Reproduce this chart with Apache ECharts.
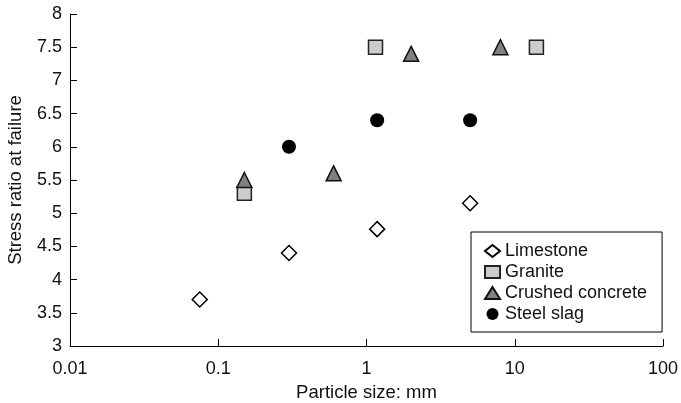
<!DOCTYPE html>
<html>
<head>
<meta charset="utf-8">
<script src="https://cdn.jsdelivr.net/npm/echarts@6/dist/echarts.min.js"></script>
<style>
	html, body { margin: 0; padding: 0; background: #fff; }
	#chart { width: 681px; height: 403px; }
</style>
</head>
<body>
<div id="chart"></div>
<script>
	// particle size (mm) and stress ratio at failure
	const limestone = [[0.075, 3.7], [0.3, 4.4], [1.18, 4.76], [5, 5.15]];
	const granite = [[0.15, 5.3], [1.15, 7.5], [14, 7.5]];
	const crushedConcrete = [[0.15, 5.5], [0.6, 5.6], [2, 7.4], [8, 7.5]];
	const steelSlag = [[0.3, 6.0], [1.18, 6.4], [5, 6.4]];

	const xTickLabels = ["0.01", "0.1", "1", "10", "100"];
	const yTicks = [3, 3.5, 4, 4.5, 5, 5.5, 6, 6.5, 7, 7.5, 8];

	const font = "'Liberation Sans', Arial, sans-serif";

	const chart = echarts.init(document.getElementById("chart"));

	const axisCommon = {
		splitLine: { show: false },
		axisLine: { lineStyle: { color: "#000", width: 1 } },
		axisTick: { inside: true, length: 7, lineStyle: { color: "#000" } }
	};

	chart.setOption({
		animation: false,
		grid: { left: 70, right: 18, top: 14, bottom: 57, outerBoundsMode: "none" },
		xAxis: {
			...axisCommon,
			type: "log",
			logBase: 10,
			min: 0.01,
			max: 100,
			name: "Particle size: mm",
			nameLocation: "middle",
			nameGap: 37,
			nameTextStyle: { color: "#111", fontSize: 18.5, fontFamily: font },
			minorTick: { show: false },
			axisLabel: {
				color: "#111",
				fontSize: 18,
				fontFamily: font,
				margin: 14,
				formatter: (v, i) => xTickLabels[i]
			}
		},
		yAxis: {
			...axisCommon,
			type: "value",
			min: yTicks[0],
			max: yTicks[yTicks.length - 1],
			interval: 0.5,
			name: "Stress ratio at failure",
			nameLocation: "middle",
			nameGap: 45,
			nameTextStyle: { color: "#111", fontSize: 18.5, fontFamily: font },
			axisLabel: {
				color: "#111",
				fontSize: 18,
				fontFamily: font,
				margin: 8
			}
		},
		legend: {
			left: 471,
			top: 232,
			orient: "vertical",
			padding: [10, 15, 9, 13],
			itemGap: 3,
			itemWidth: 15,
			itemHeight: 12,
			borderColor: "#000",
			borderWidth: 1,
			textStyle: { color: "#111", fontSize: 18, fontFamily: font },
			data: ["Limestone", "Granite", "Crushed concrete", "Steel slag"]
		},
		series: [
			{
				name: "Limestone",
				type: "scatter",
				symbol: "diamond",
				symbolSize: 15,
				itemStyle: { color: "#fff", borderColor: "#000", borderWidth: 1.5, opacity: 1 },
				data: limestone
			},
			{
				name: "Granite",
				type: "scatter",
				symbol: "rect",
				symbolSize: 14,
				itemStyle: { color: "#cccccc", borderColor: "#222", borderWidth: 1.5, opacity: 1 },
				data: granite
			},
			{
				name: "Crushed concrete",
				type: "scatter",
				symbol: "triangle",
				symbolSize: 15,
				itemStyle: { color: "#808080", borderColor: "#111", borderWidth: 1.5, opacity: 1 },
				data: crushedConcrete
			},
			{
				name: "Steel slag",
				type: "scatter",
				symbol: "circle",
				symbolSize: 14,
				itemStyle: { color: "#000", borderColor: "#000", borderWidth: 0, opacity: 1 },
				data: steelSlag
			}
		]
	});
</script>
</body>
</html>
